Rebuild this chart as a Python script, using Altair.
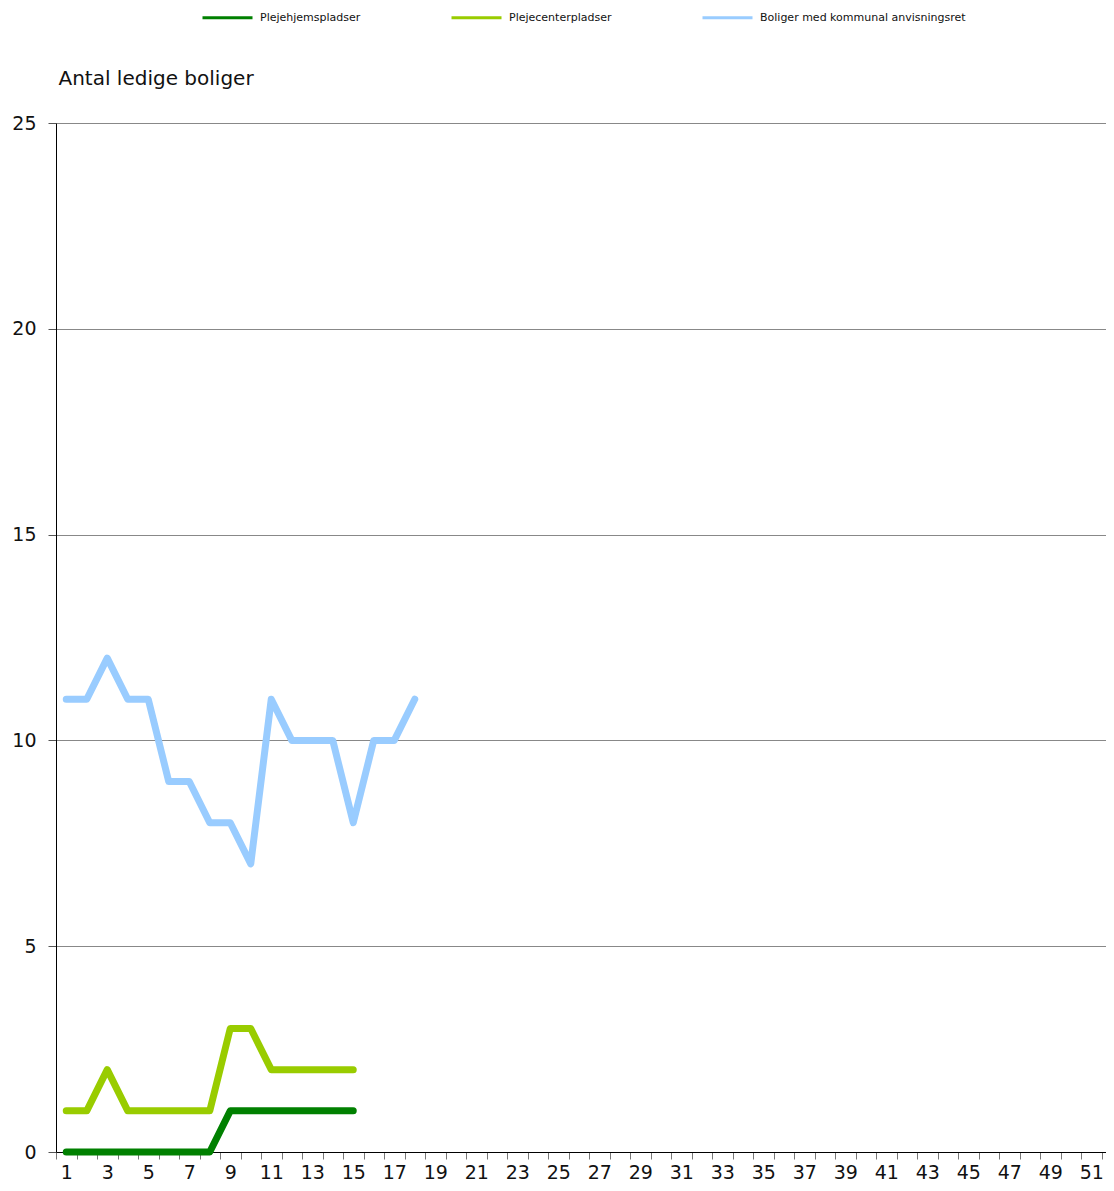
import altair as alt
import pandas as pd

weeks_all = list(range(1, 53))

series_names = ["Plejehjemspladser", "Plejecenterpladser", "Boliger med kommunal anvisningsret"]
series_colors = ["#008000", "#99CC00", "#99CCFF"]

weeks_pleje = list(range(1, 16))
plejehjem = [0, 0, 0, 0, 0, 0, 0, 0, 1, 1, 1, 1, 1, 1, 1]
plejecenter = [1, 1, 2, 1, 1, 1, 1, 1, 3, 3, 2, 2, 2, 2, 2]

weeks_boliger = list(range(1, 19))
boliger = [11, 11, 12, 11, 11, 9, 9, 8, 8, 7, 11, 10, 10, 10, 8, 10, 10, 11]

y_ticks = [0, 5, 10, 15, 20, 25]

rows = []
for w, v in zip(weeks_pleje, plejehjem):
    rows.append({"uge": w, "antal": v, "serie": series_names[0], "ordre": 0})
for w, v in zip(weeks_pleje, plejecenter):
    rows.append({"uge": w, "antal": v, "serie": series_names[1], "ordre": 1})
for w, v in zip(weeks_boliger, boliger):
    rows.append({"uge": w, "antal": v, "serie": series_names[2], "ordre": 2})
df = pd.DataFrame(rows)

step = 20.5
plot_w = 1050
plot_h = 1029
x_domain = [0.5, 0.5 + plot_w / step]
tick_values = [w - 0.5 for w in weeks_all]

font = "DejaVu Sans"

chart = (
    alt.Chart(df)
    .mark_line(strokeWidth=7, strokeCap="round", strokeJoin="round")
    .encode(
        x=alt.X(
            "uge:Q",
            scale=alt.Scale(domain=x_domain, nice=False, zero=False),
            axis=alt.Axis(
                title=None,
                values=tick_values,
                labelExpr="(datum.value + 0.5) % 2 == 1 ? format(datum.value + 0.5, 'd') : ''",
                labelOffset=step / 2,
                labelOverlap=False,
                labelFlush=False,
                labelBound=False,
                labelFontSize=19,
                labelFont=font,
                labelColor="#111111",
                labelPadding=4,
                tickSize=7,
                tickColor="#777777",
                domainColor="#000000",
                domainWidth=1,
                grid=False,
            ),
        ),
        y=alt.Y(
            "antal:Q",
            scale=alt.Scale(domain=[0, 25], nice=False),
            axis=alt.Axis(
                title="Antal ledige boliger",
                titleAngle=0,
                titleX=2,
                titleY=-45,
                titleAlign="left",
                titleBaseline="middle",
                titleFont=font,
                titleFontSize=20,
                titleFontWeight="normal",
                titleColor="#111111",
                values=y_ticks,
                labelFontSize=19,
                labelFont=font,
                labelColor="#111111",
                labelPadding=12,
                tickSize=8,
                tickColor="#555555",
                domainColor="#000000",
                domainWidth=1,
                grid=True,
                gridColor="#888888",
                gridWidth=1,
            ),
        ),
        color=alt.Color(
            "serie:N",
            scale=alt.Scale(domain=series_names, range=series_colors),
            legend=alt.Legend(
                title=None,
                orient="none",
                legendX=145,
                legendY=-132,
                direction="horizontal",
                columns=3,
                gridAlign="each",
                columnPadding=84,
                symbolType="stroke",
                symbolSize=2500,
                symbolStrokeWidth=3,
                labelFontSize=11,
                labelFont=font,
                labelColor="#111111",
                labelOffset=6,
                labelLimit=400,
            ),
        ),
        order=alt.Order("ordre:Q"),
        detail="serie:N",
    )
    .properties(
        width=plot_w,
        height=plot_h,
        autosize=alt.AutoSizeParams(type="none"),
        padding={"left": 48, "top": 115, "right": 0, "bottom": 31},
    )
    .configure_view(stroke=None)
)

chart.save("out.html", embed_options={"renderer": "svg", "actions": False})
